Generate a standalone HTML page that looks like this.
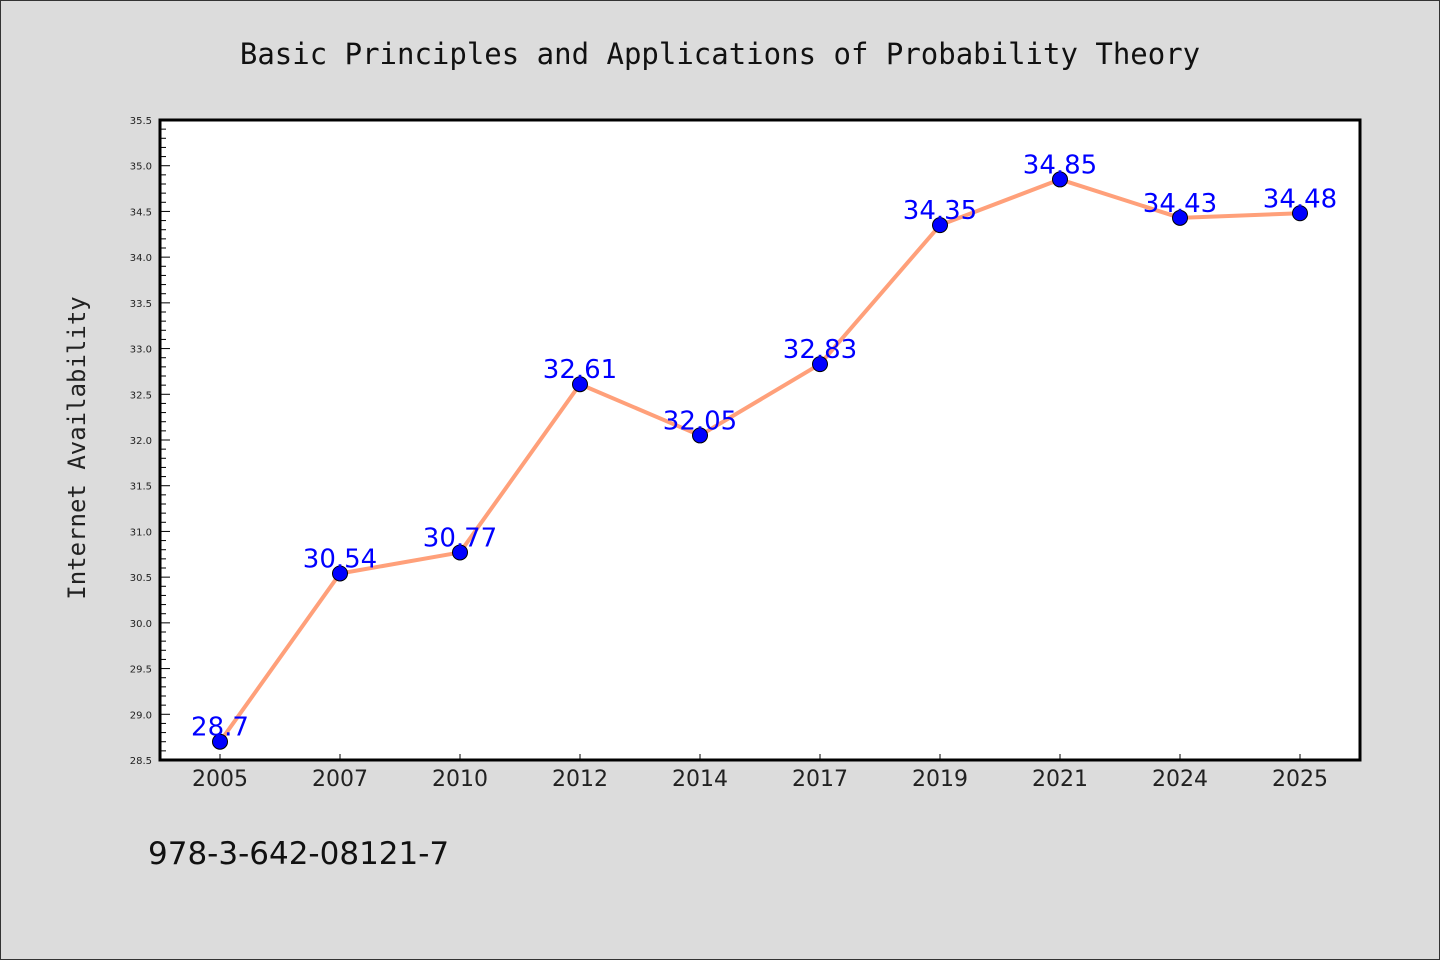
<!DOCTYPE html>
<html><head><meta charset="utf-8"><style>
body{margin:0;background:#dcdcdc;}
svg{display:block;font-family:"DejaVu Sans","Liberation Sans",sans-serif;}
</style></head><body>
<svg width="1440" height="960">
<rect x="0.5" y="0.5" width="1439" height="959" fill="#dcdcdc" stroke="#333"/>
<text x="720" y="64" text-anchor="middle" font-size="29" fill="#111" font-family="'DejaVu Sans Mono','Liberation Mono',monospace">Basic Principles and Applications of Probability Theory</text>
<rect x="160" y="120" width="1200" height="640" fill="#fff"/>
<g id="axes"></g>
<g id="series"></g>
<rect x="160" y="120" width="1200" height="640" fill="none" stroke="#000" stroke-width="3"/>
<text transform="translate(85,448) rotate(-90)" text-anchor="middle" font-size="24" fill="#222" font-family="'DejaVu Sans Mono','Liberation Mono',monospace">Internet Availability</text>
<text x="148" y="864" font-size="31" fill="#111">978-3-642-08121-7</text>
</svg>
<script>
const categories=["2005","2007","2010","2012","2014","2017","2019","2021","2024","2025"];
const values=[28.7,30.54,30.77,32.61,32.05,32.83,34.35,34.85,34.43,34.48];
const valueLabels=["28.7","30.54","30.77","32.61","32.05","32.83","34.35","34.85","34.43","34.48"];
const yTicks=["28.5","29.0","29.5","30.0","30.5","31.0","31.5","32.0","32.5","33.0","33.5","34.0","34.5","35.0","35.5"];
const yMin=28.5,yMax=35.5,L=160,R=1360,T=120,B=760;
const NS="http://www.w3.org/2000/svg";
const y=v=>B-(v-yMin)/(yMax-yMin)*(B-T);
const x=i=>L+(R-L)/categories.length*(i+0.5);
function mk(t,a,p){const e=document.createElementNS(NS,t);for(const k in a)e.setAttribute(k,a[k]);p.appendChild(e);return e;}
const ax=document.getElementById('axes'),se=document.getElementById('series');
for(let k=0;k<=70;k++){const v=yMin+k*0.1;const major=k%5===0;
 const t=mk('line',{x1:L,x2:L+(major?10:6),y1:y(v),y2:y(v),stroke:'#000','stroke-width':1},ax);
 
 }
yTicks.forEach(s=>{const t=mk('text',{x:L-8,y:y(+s)+4,'text-anchor':'end','font-size':10,fill:'#222'},ax);t.textContent=s;
 
 });
categories.forEach((c,i)=>{const l=mk('line',{x1:x(i),x2:x(i),y1:B,y2:B-6,stroke:'#000'},ax);
 
 
 const t=mk('text',{x:x(i),y:B+26,'text-anchor':'middle','font-size':22,fill:'#222'},ax);t.textContent=c;
 
 });
const pl=mk('polyline',{points:values.map((v,i)=>x(i)+','+y(v)).join(' '),fill:'none',stroke:'#ffa07a','stroke-width':4},se);


values.forEach((v,i)=>{const c=mk('circle',{cx:x(i),cy:y(v),r:7.5,fill:'#0000ff',stroke:'#000','stroke-width':1},se);
 
 
 const t=mk('text',{x:x(i),y:y(v)-6,'text-anchor':'middle','font-size':26,fill:'#0000ff'},se);t.textContent=valueLabels[i];
 
 });
</script>
</body></html>
